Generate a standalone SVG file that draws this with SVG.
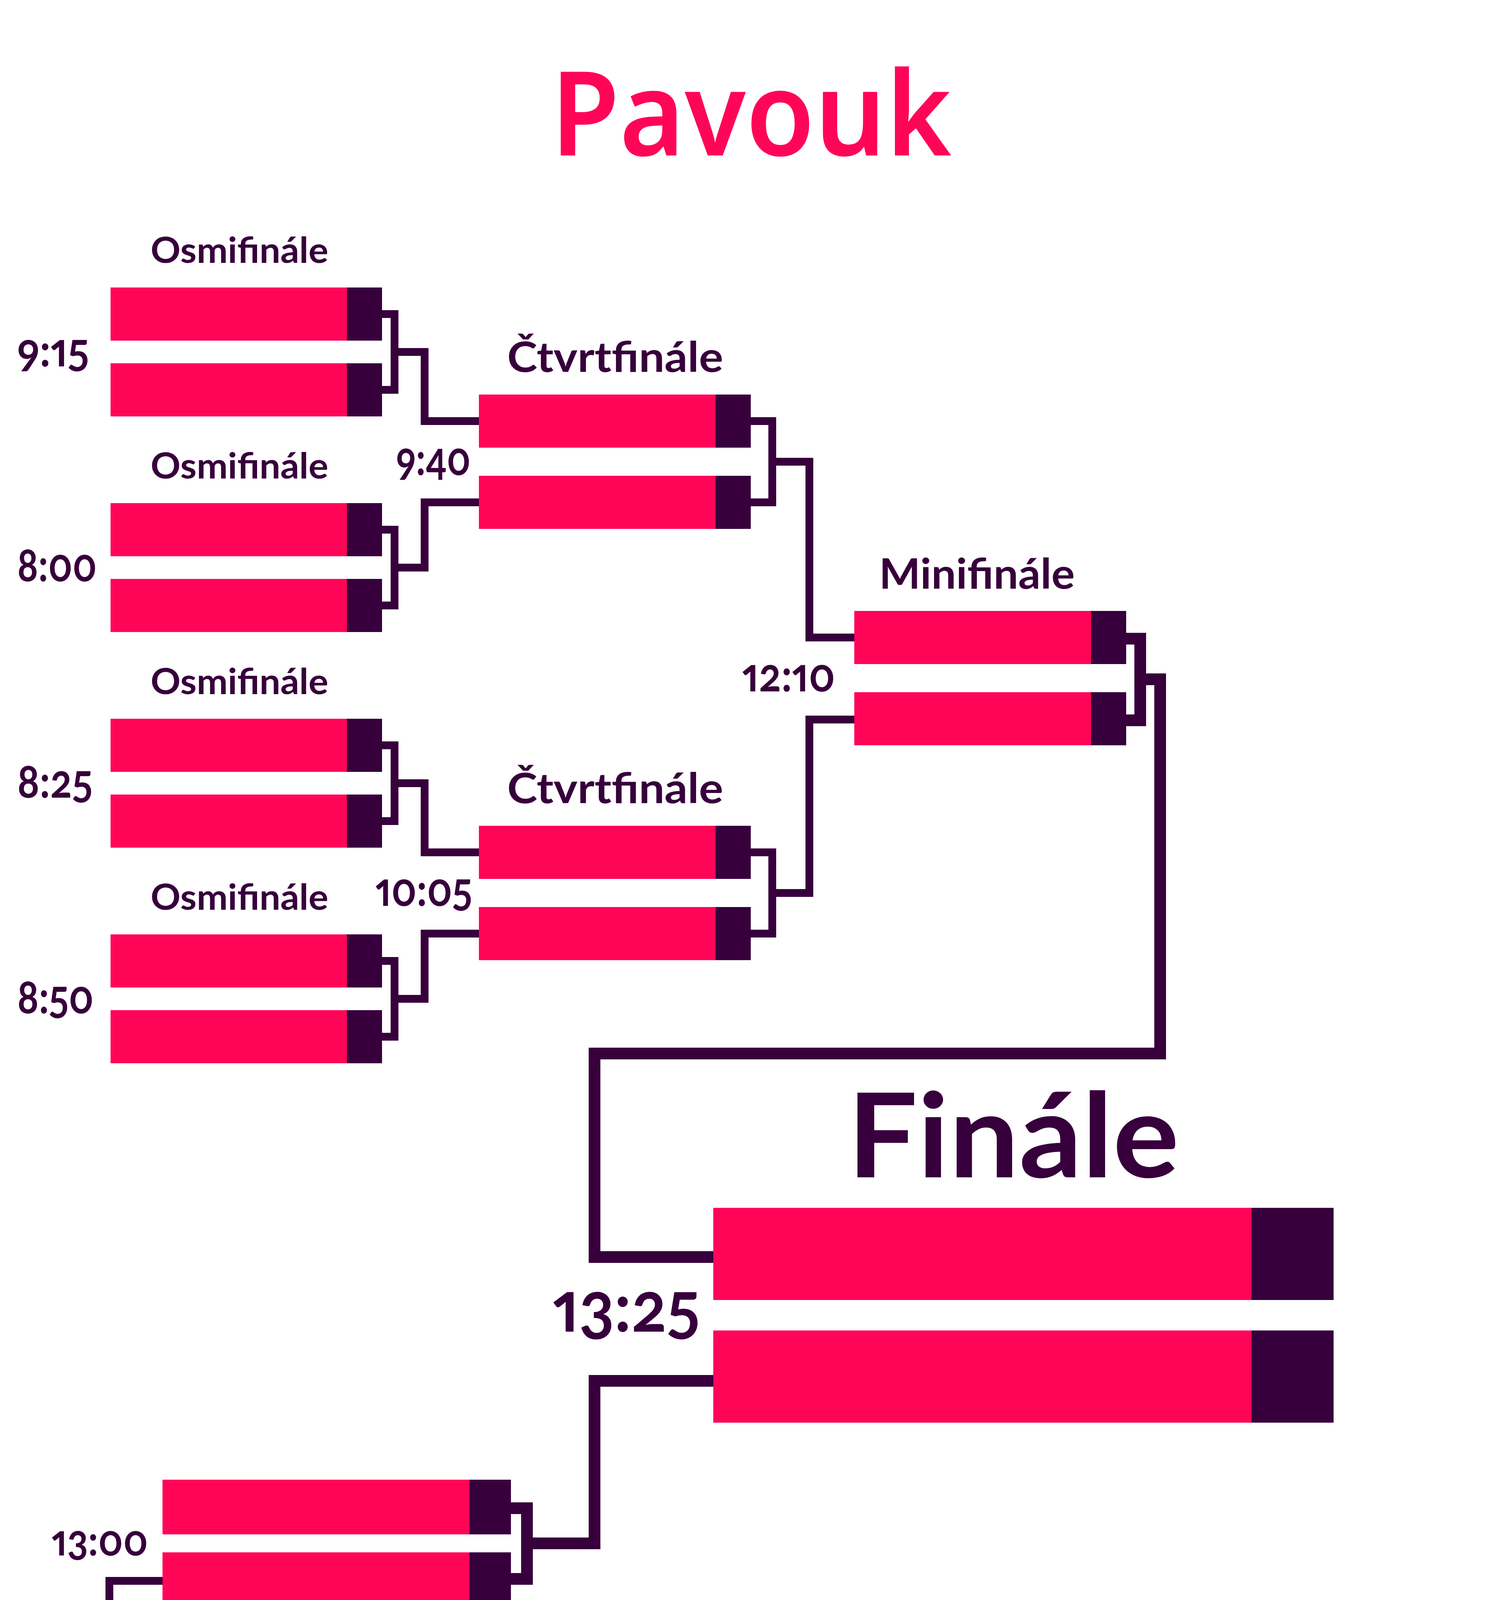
<svg xmlns="http://www.w3.org/2000/svg" width="3840" height="6646" viewBox="0 0 3840 6646">
<style>
.pk{fill:#FF0558}
.dk{fill:#37003C}
.ln{fill:none;stroke:#37003C;stroke-width:20;stroke-linejoin:miter;stroke-linecap:butt}
.lw{fill:none;stroke:#37003C;stroke-width:30;stroke-linejoin:miter;stroke-linecap:butt}
.ttl{font-family:"Noto Sans","Open Sans",sans-serif;font-weight:600;font-size:300px;fill:#FF0558;text-anchor:middle}
.ra{font-family:Lato,"Open Sans",sans-serif;font-weight:700;fill:#37003C;font-variant-numeric:oldstyle-nums proportional-nums}
.ps{font-family:"Noto Sans","Open Sans",sans-serif;font-weight:600;fill:#37003C}
.mid{text-anchor:middle}
</style>
<rect width="3840" height="6646" fill="#FFFFFF"/>

<text class="ttl" x="1923" y="398" textLength="1026" lengthAdjust="spacingAndGlyphs">Pavouk</text>

<g id="connectors">
  <path class="ln" d="M978,804 H1010 V998 H978 M1010,901 H1087 V1078 H1226"/>
  <path class="ln" d="M978,1356 H1010 V1550 H978 M1010,1453 H1087 V1286 H1226"/>
  <path class="ln" d="M978,1908 H1010 V2102 H978 M1010,2005 H1087 V2182 H1226"/>
  <path class="ln" d="M978,2460 H1010 V2654 H978 M1010,2557 H1087 V2390 H1226"/>
  <path class="ln" d="M1922,1078 H1977 V1286 H1922 M1977,1182 H2072 V1632 H2187"/>
  <path class="ln" d="M1922,2182 H1977 V2390 H1922 M1977,2286 H2072 V1842 H2187"/>
  <path class="lw" d="M2883,1635 H2919 V1844 H2883 M2919,1739 H2970 V2697 H1522 V3218 H1826"/>
  <path class="lw" d="M1826,3535 H1522 V3951 H1349"/>
  <path class="lw" d="M1308,3861 H1349 V4042 H1308"/>
  <path class="ln" d="M416,4047 H280 V4395 H3466 V5762 H3068"/>
  <path class="ln" d="M3012,5660 H3068 V5868 H3012"/>
  <path class="ln" d="M1014,5105 H1070 V5299 H1014 M1070,5202 H1157 V5373 H1358"/>
  <path class="ln" d="M1014,6215 H1070 V6409 H1014 M1070,6312 H1157 V6152 H1358"/>
  <path class="ln" d="M2053,5373 H2122 V5581 H2053 M2122,5477 H2200 V5660 H2316"/>
  <path class="ln" d="M2053,5944 H2122 V6152 H2053 M2122,6048 H2200 V5868 H2316"/>
</g>

<g id="osmi1">
  <text class="ra mid" x="613" y="673" font-size="92" textLength="455" lengthAdjust="spacingAndGlyphs">Osmifinále</text>
  <rect class="pk" x="283" y="736" width="605" height="136"/><rect class="dk" x="888" y="736" width="90" height="136"/>
  <rect class="pk" x="283" y="930" width="605" height="136"/><rect class="dk" x="888" y="930" width="90" height="136"/>
  <text class="ra" x="44" y="938" font-size="118" textLength="184" lengthAdjust="spacingAndGlyphs">9:15</text>
</g>
<g id="osmi2">
  <text class="ra mid" x="613" y="1225" font-size="92" textLength="455" lengthAdjust="spacingAndGlyphs">Osmifinále</text>
  <rect class="pk" x="283" y="1288" width="605" height="136"/><rect class="dk" x="888" y="1288" width="90" height="136"/>
  <rect class="pk" x="283" y="1482" width="605" height="136"/><rect class="dk" x="888" y="1482" width="90" height="136"/>
  <text class="ra" x="44" y="1488" font-size="118" textLength="204" lengthAdjust="spacingAndGlyphs">8:00</text>
</g>
<g id="osmi3">
  <text class="ra mid" x="613" y="1777" font-size="92" textLength="455" lengthAdjust="spacingAndGlyphs">Osmifinále</text>
  <rect class="pk" x="283" y="1840" width="605" height="136"/><rect class="dk" x="888" y="1840" width="90" height="136"/>
  <rect class="pk" x="283" y="2034" width="605" height="136"/><rect class="dk" x="888" y="2034" width="90" height="136"/>
  <text class="ra" x="44" y="2042" font-size="118" textLength="193" lengthAdjust="spacingAndGlyphs">8:25</text>
</g>
<g id="osmi4">
  <text class="ra mid" x="613" y="2329" font-size="92" textLength="455" lengthAdjust="spacingAndGlyphs">Osmifinále</text>
  <rect class="pk" x="283" y="2392" width="605" height="136"/><rect class="dk" x="888" y="2392" width="90" height="136"/>
  <rect class="pk" x="283" y="2586" width="605" height="136"/><rect class="dk" x="888" y="2586" width="90" height="136"/>
  <text class="ra" x="44" y="2594" font-size="118" textLength="196" lengthAdjust="spacingAndGlyphs">8:50</text>
</g>

<g id="ctvrt1">
  <text class="ra mid" x="1575" y="952" font-size="108" textLength="553" lengthAdjust="spacingAndGlyphs">Čtvrtfinále</text>
  <rect class="pk" x="1226" y="1010" width="606" height="136"/><rect class="dk" x="1832" y="1010" width="90" height="136"/>
  <rect class="pk" x="1226" y="1218" width="606" height="136"/><rect class="dk" x="1832" y="1218" width="90" height="136"/>
  <text class="ra" x="1014" y="1216" font-size="118" textLength="191" lengthAdjust="spacingAndGlyphs">9:40</text>
</g>
<g id="ctvrt2">
  <text class="ra mid" x="1575" y="2056" font-size="108" textLength="553" lengthAdjust="spacingAndGlyphs">Čtvrtfinále</text>
  <rect class="pk" x="1226" y="2114" width="606" height="136"/><rect class="dk" x="1832" y="2114" width="90" height="136"/>
  <rect class="pk" x="1226" y="2322" width="606" height="136"/><rect class="dk" x="1832" y="2322" width="90" height="136"/>
  <text class="ra" x="961" y="2319" font-size="118" textLength="248" lengthAdjust="spacingAndGlyphs">10:05</text>
</g>
<g id="minifinale">
  <text class="ra mid" x="2501" y="1507" font-size="108" textLength="501" lengthAdjust="spacingAndGlyphs">Minifinále</text>
  <rect class="pk" x="2187" y="1564" width="606" height="136"/><rect class="dk" x="2793" y="1564" width="90" height="136"/>
  <rect class="pk" x="2187" y="1772" width="606" height="136"/><rect class="dk" x="2793" y="1772" width="90" height="136"/>
  <text class="ra" x="1900" y="1770" font-size="118" textLength="238" lengthAdjust="spacingAndGlyphs">12:10</text>
</g>
<g id="finale">
  <text class="ra mid" x="2594" y="3014" font-size="300" textLength="849" lengthAdjust="spacingAndGlyphs">Finále</text>
  <rect class="pk" x="1826" y="3092" width="1378" height="236"/><rect class="dk" x="3204" y="3092" width="210" height="236"/>
  <rect class="pk" x="1826" y="3406" width="1378" height="236"/><rect class="dk" x="3204" y="3406" width="210" height="236"/>
  <text class="ra" x="1415" y="3409" font-size="178" textLength="377" lengthAdjust="spacingAndGlyphs">13:25</text>
</g>
<g id="o3misto">
  <rect class="pk" x="416" y="3788" width="786" height="140"/><rect class="dk" x="1202" y="3788" width="106" height="140"/>
  <rect class="pk" x="416" y="3974" width="786" height="140"/><rect class="dk" x="1202" y="3974" width="106" height="140"/>
  <text class="ra" x="132" y="3982" font-size="110" textLength="247" lengthAdjust="spacingAndGlyphs">13:00</text>
  <text class="ra mid" x="858" y="4255" font-size="128" textLength="598" lengthAdjust="spacingAndGlyphs">O 3. místo</text>
</g>

<text class="ttl" x="1936" y="4780" textLength="2384" lengthAdjust="spacingAndGlyphs">Pavouk Proherců</text>

<g id="p-ctvrt1">
  <text class="ps mid" x="668" y="4994" font-size="108" textLength="550" lengthAdjust="spacingAndGlyphs">Čtvrtfinále</text>
  <rect class="pk" x="318" y="5037" width="606" height="136"/><rect class="dk" x="924" y="5037" width="90" height="136"/>
  <rect class="pk" x="318" y="5231" width="606" height="136"/><rect class="dk" x="924" y="5231" width="90" height="136"/>
  <text class="ps" x="42" y="5234" font-size="88" textLength="248" lengthAdjust="spacingAndGlyphs">10:30</text>
</g>
<g id="p-ctvrt2">
  <text class="ps mid" x="668" y="6098" font-size="108" textLength="550" lengthAdjust="spacingAndGlyphs">Čtvrtfinále</text>
  <rect class="pk" x="318" y="6147" width="606" height="136"/><rect class="dk" x="924" y="6147" width="90" height="136"/>
  <rect class="pk" x="318" y="6341" width="606" height="136"/><rect class="dk" x="924" y="6341" width="90" height="136"/>
  <text class="ps" x="42" y="6354" font-size="88" textLength="246" lengthAdjust="spacingAndGlyphs">10:55</text>
</g>
<g id="p-semi1">
  <text class="ps mid" x="1715" y="5250" font-size="108" textLength="548" lengthAdjust="spacingAndGlyphs">Semifinále</text>
  <rect class="pk" x="1358" y="5305" width="606" height="136"/><rect class="dk" x="1964" y="5305" width="89" height="136"/>
  <rect class="pk" x="1358" y="5513" width="606" height="136"/><rect class="dk" x="1964" y="5513" width="89" height="136"/>
  <text class="ps" x="1098" y="5512" font-size="88" textLength="235" lengthAdjust="spacingAndGlyphs">11:20</text>
</g>
<g id="p-semi2">
  <text class="ps mid" x="1731" y="5819" font-size="108" textLength="550" lengthAdjust="spacingAndGlyphs">Semifinále</text>
  <rect class="pk" x="1358" y="5876" width="606" height="136"/><rect class="dk" x="1964" y="5876" width="89" height="136"/>
  <rect class="pk" x="1358" y="6084" width="606" height="136"/><rect class="dk" x="1964" y="6084" width="89" height="136"/>
  <text class="ps" x="1098" y="6086" font-size="88" textLength="232" lengthAdjust="spacingAndGlyphs">11:45</text>
</g>
<g id="p-minifinale">
  <text class="ps mid" x="2620" y="5544" font-size="108" textLength="504" lengthAdjust="spacingAndGlyphs">Minifinále</text>
  <rect class="pk" x="2316" y="5592" width="606" height="136"/><rect class="dk" x="2922" y="5592" width="90" height="136"/>
  <rect class="pk" x="2316" y="5800" width="606" height="136"/><rect class="dk" x="2922" y="5800" width="90" height="136"/>
  <text class="ps" x="2057" y="5804" font-size="88" textLength="236" lengthAdjust="spacingAndGlyphs">12:35</text>
</g>
</svg>
